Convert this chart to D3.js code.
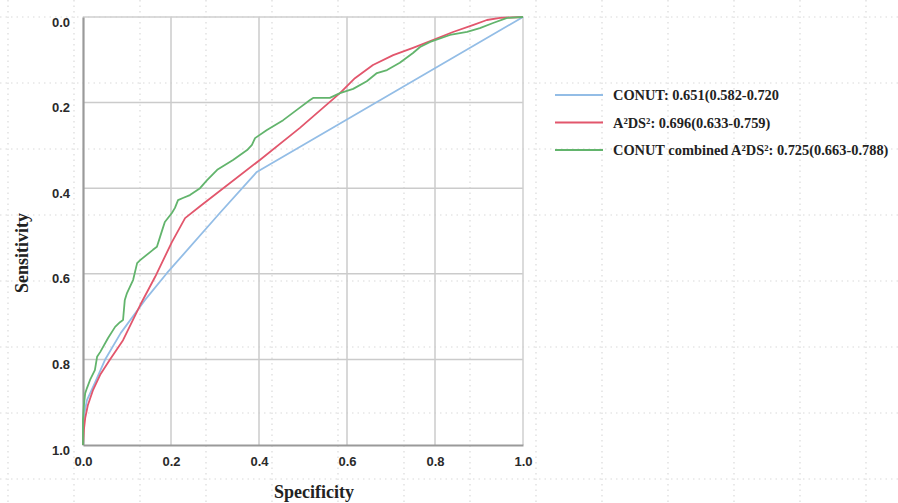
<!DOCTYPE html>
<html lang="en">
<head>
<meta charset="UTF-8">
<title>ROC</title>
<style>
  body { margin: 0; background: #fff; }
  svg { display: block; }
</style>
</head>
<body>
<script src="https://d3js.org/d3.v7.min.js"></script>
<script>
// ---- data ----
let ticks = [0, 0.2, 0.4, 0.6, 0.8, 1.0];

let conutSpec = [0, 0, 0.009, 0.027, 0.05, 0.086, 0.141, 0.191, 0.311, 0.395, 1];
let conutSens = [1, 0.942, 0.895, 0.855, 0.801, 0.738, 0.661, 0.598, 0.458, 0.362, 0];

let adsSpec = [0, 0.002, 0.005, 0.011, 0.023, 0.039, 0.061, 0.091, 0.130, 0.164, 0.202, 0.232, 0.266,
               0.402, 0.493, 0.584, 0.618, 0.659, 0.705, 0.75, 0.795, 0.841, 0.886, 0.918, 0.948, 1];
let adsSens = [1, 0.965, 0.937, 0.907, 0.871, 0.836, 0.801, 0.755, 0.673, 0.607, 0.526, 0.470, 0.442,
               0.334, 0.259, 0.178, 0.143, 0.112, 0.089, 0.072, 0.054, 0.035, 0.019, 0.007, 0.002, 0];

let combSpec = [0, 0, 0.002, 0.005, 0.009, 0.016, 0.027, 0.032, 0.039, 0.057, 0.073, 0.084, 0.091, 0.095,
                0.1, 0.114, 0.123, 0.130, 0.159, 0.168, 0.180, 0.186, 0.202, 0.209, 0.216, 0.227, 0.243,
                0.266, 0.282, 0.305, 0.341, 0.373, 0.384, 0.391, 0.418, 0.455, 0.486, 0.516, 0.523, 0.561,
                0.584, 0.614, 0.645, 0.668, 0.691, 0.720, 0.75, 0.766, 0.789, 0.834, 0.873, 0.902, 0.932,
                0.964, 1];
let combSens = [1, 0.942, 0.907, 0.879, 0.867, 0.848, 0.825, 0.794, 0.783, 0.750, 0.724, 0.713, 0.708, 0.661,
                0.645, 0.614, 0.575, 0.568, 0.544, 0.537, 0.498, 0.479, 0.458, 0.446, 0.428, 0.423, 0.416,
                0.400, 0.381, 0.357, 0.334, 0.311, 0.299, 0.283, 0.264, 0.241, 0.217, 0.194, 0.189, 0.189,
                0.178, 0.168, 0.150, 0.131, 0.124, 0.107, 0.084, 0.070, 0.058, 0.042, 0.035, 0.026, 0.014,
                0.002, 0];

let seriesNames = ["CONUT: 0.651(0.582-0.720", "A\u00B2DS\u00B2: 0.696(0.633-0.759)",
                   "CONUT combined A\u00B2DS\u00B2: 0.725(0.663-0.788)"];
let seriesColors = ["#93bde6", "#e2566c", "#62b46c"];

let series = [
  d3.zip(conutSpec, conutSens),
  d3.zip(adsSpec, adsSens),
  d3.zip(combSpec, combSens)
];

// ---- layout ----
let svgWidth = 898;
let svgHeight = 503;
let margin = { top: 17, left: 83 };
let chartWidth = 440;
let chartHeight = 428;

let svg = d3.select("body").append("svg")
  .attr("width", svgWidth)
  .attr("height", svgHeight);

// faint dotted background grid (covers the whole picture)
let bg = svg.append("g").attr("stroke", "#dadada").attr("stroke-width", 1.2)
  .attr("stroke-dasharray", "1.5,4");
bg.selectAll("line.v").data(d3.range(8, svgWidth, 66)).enter().append("line")
  .attr("x1", d => d).attr("x2", d => d).attr("y1", 0).attr("y2", svgHeight);
bg.selectAll("line.h").data(d3.range(17, svgHeight, 66)).enter().append("line")
  .attr("y1", d => d).attr("y2", d => d).attr("x1", 0).attr("x2", svgWidth);

let g = svg.append("g").attr("transform", `translate(${margin.left}, ${margin.top})`);

let x = d3.scaleLinear().domain([0, 1]).range([0, chartWidth]);
let y = d3.scaleLinear().domain([0, 1]).range([0, chartHeight]);

// grid lines
g.append("g").selectAll("line").data(ticks.slice(1, -1)).enter().append("line")
  .attr("x1", d => x(d)).attr("x2", d => x(d)).attr("y1", 0).attr("y2", chartHeight)
  .attr("stroke", "#cbcbcb").attr("stroke-width", 1.5);
g.append("g").selectAll("line").data(ticks.slice(1, -1)).enter().append("line")
  .attr("y1", d => y(d)).attr("y2", d => y(d)).attr("x1", 0).attr("x2", chartWidth)
  .attr("stroke", "#cbcbcb").attr("stroke-width", 1.5);

// frame: top/right light, left/bottom darker
g.append("line").attr("x1", 0).attr("x2", chartWidth).attr("y1", 0).attr("y2", 0)
  .attr("stroke", "#cfcfcf").attr("stroke-width", 1.5);
g.append("line").attr("x1", chartWidth).attr("x2", chartWidth).attr("y1", 0).attr("y2", chartHeight)
  .attr("stroke", "#cfcfcf").attr("stroke-width", 1.5);

// axes
let xAxis = g.append("g").attr("transform", `translate(0, ${chartHeight})`)
  .call(d3.axisBottom(x).tickValues(ticks).tickFormat(d3.format(".1f")).tickSize(0).tickPadding(12));
let yAxis = g.append("g")
  .call(d3.axisLeft(y).tickValues(ticks).tickFormat(d3.format(".1f")).tickSize(0).tickPadding(13));

[xAxis, yAxis].forEach(a => {
  a.select(".domain").attr("stroke", "#9a9a9a").attr("stroke-width", 2.2);
  a.selectAll("text")
    .attr("fill", "#2a2a2a")
    .style("font-family", "Arial, 'Liberation Sans', sans-serif")
    .style("font-weight", "bold")
    .style("font-size", "13px");
});
yAxis.selectAll("text").attr("dy", "0.7em");

// curves
let line = d3.line().x(d => x(d[0])).y(d => y(d[1]));
g.selectAll(".roc").data(series).enter().append("path")
  .attr("class", "roc")
  .attr("d", line)
  .attr("fill", "none")
  .attr("stroke", (d, i) => seriesColors[i])
  .attr("stroke-width", 1.8)
  .attr("stroke-linejoin", "round");

// axis titles
svg.append("text")
  .attr("transform", `translate(28, ${margin.top + chartHeight / 2 + 22}) rotate(-90)`)
  .attr("text-anchor", "middle")
  .style("font-family", "'Times New Roman', 'Liberation Serif', serif")
  .style("font-weight", "bold")
  .style("font-size", "18px")
  .attr("fill", "#222")
  .text("Sensitivity");

svg.append("text")
  .attr("x", 314)
  .attr("y", 498)
  .attr("text-anchor", "middle")
  .style("font-family", "'Times New Roman', 'Liberation Serif', serif")
  .style("font-weight", "bold")
  .style("font-size", "18px")
  .attr("fill", "#222")
  .text("Specificity");

// legend
let legend = svg.append("g").attr("transform", "translate(555, 95)");
let items = legend.selectAll("g").data(seriesNames).enter().append("g")
  .attr("transform", (d, i) => `translate(0, ${i * 27.5})`);
items.append("line").attr("x1", 0).attr("x2", 48).attr("y1", 0).attr("y2", 0)
  .attr("stroke", (d, i) => seriesColors[i]).attr("stroke-width", 1.8);
items.append("text")
  .attr("x", 58).attr("y", 0).attr("dy", "0.35em")
  .style("font-family", "'Times New Roman', 'Liberation Serif', serif")
  .style("font-weight", "bold")
  .style("font-size", "14.4px")
  .attr("fill", "#222")
  .text(d => d);
</script>
</body>
</html>
